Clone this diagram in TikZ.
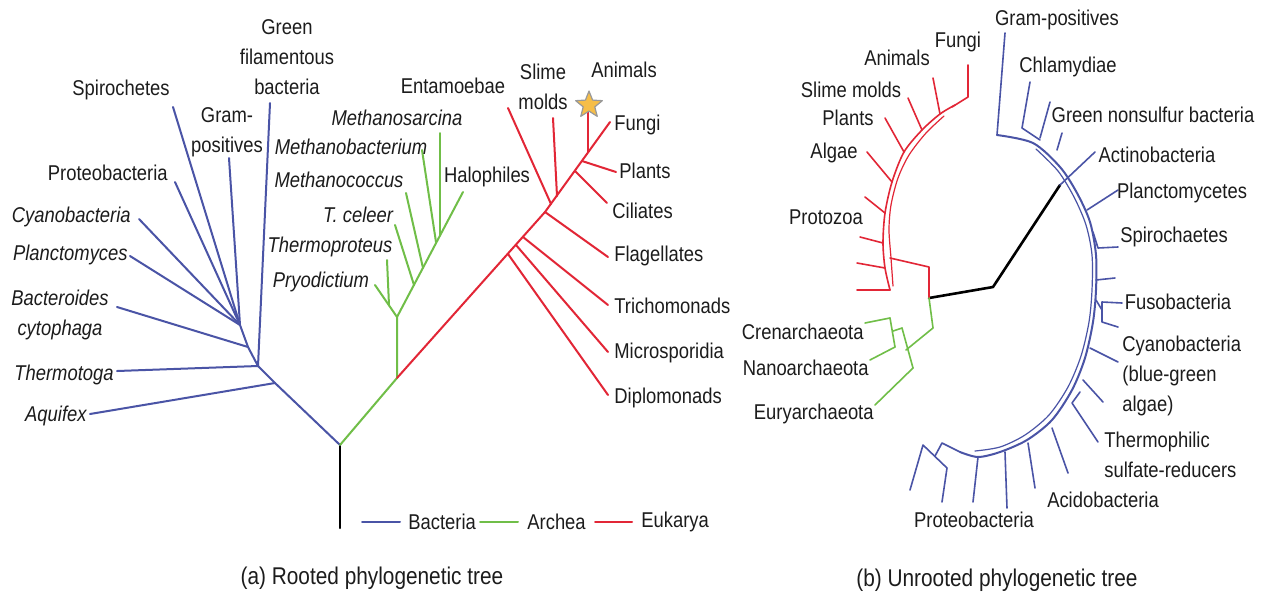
\documentclass[tikz,border=0pt]{standalone}
\usepackage{fontspec}
\setmainfont{Liberation Sans}[FakeStretch=0.86]
\usetikzlibrary{shapes.geometric}

\definecolor{bact}{RGB}{74,84,166}
\definecolor{arch}{RGB}{112,190,72}
\definecolor{euk}{RGB}{226,38,54}
\definecolor{txt}{RGB}{28,28,28}
\definecolor{etoile}{RGB}{246,190,72}

\begin{document}
\begin{tikzpicture}[x=0.5pt, y=-0.5pt, line cap=round, line join=round,
  bleu/.style={draw=bact, line width=1pt},
  vert/.style={draw=arch, line width=1pt},
  rouge/.style={draw=euk, line width=1pt},
  fin/.style={line width=0.8pt},
  etiq/.style={text=txt, font=\fontsize{10.7}{15}\selectfont, inner sep=0pt},
  etiqit/.style={etiq, font=\fontsize{10.7}{15}\selectfont\itshape},
  titre/.style={text=txt, font=\fontsize{12.1}{14}\selectfont, inner sep=0pt}]

\useasboundingbox[fill=white] (0,0) rectangle (1269,601);

% ===== (a) Arbre enraciné =====

% Racine
\coordinate (racine) at (340,528);
\coordinate (r0) at (340,445);
\draw[line width=1pt] (racine) -- (r0);

% Bactéries
\coordinate (b1) at (275,383);
\coordinate (b2) at (258,366);
\coordinate (b3) at (248,347);
\coordinate (b4) at (240,325);
\coordinate (t-aqu) at (90,414);
\coordinate (t-the) at (117,371);
\coordinate (t-gfb) at (270,103);
\coordinate (t-bac) at (117,307);
\coordinate (t-pla) at (130,256);
\coordinate (t-cya) at (139,219);
\coordinate (t-pro) at (175,182);
\coordinate (t-spi) at (173,107);
\coordinate (t-gra) at (229,158);

\draw[bleu] (r0) -- (b1) -- (b2) -- (b3) -- (b4);
\draw[bleu] (b1) -- (t-aqu);
\draw[bleu] (b2) -- (t-the);
\draw[bleu] (b2) -- (t-gfb);
\draw[bleu] (b3) -- (t-bac);
\draw[bleu] (b4) -- (t-pla);
\draw[bleu] (b4) -- (t-cya);
\draw[bleu] (b4) -- (t-pro);
\draw[bleu] (b4) -- (t-spi);
\draw[bleu] (b4) -- (t-gra);

\node[etiqit, anchor=east] (aquifex) at (87,416) {Aquifex};
\node[etiqit, anchor=east] (thermotoga) at (114,375) {Thermotoga};
\node[etiqit, align=center] (bacteroides) at (60,315) {Bacteroides\\cytophaga};
\node[etiqit, anchor=east] (planctomyces) at (128,255) {Planctomyces};
\node[etiqit, anchor=east] (cyanobacteria) at (131,217) {Cyanobacteria};
\node[etiq, anchor=east] (proteobacteria) at (168,173) {Proteobacteria};
\node[etiq] (spirochetes) at (121,90) {Spirochetes};
\node[etiq, align=center] (grampos) at (227,132) {Gram-\\positives};
\node[etiq, align=center] (greenfil) at (287,57) {Green\\filamentous\\bacteria};

% Archées
\coordinate (g0) at (397,378);
\coordinate (g1) at (397,317);
\coordinate (g2) at (389,305);
\coordinate (g3) at (414,285);
\coordinate (g4) at (423,268);
\coordinate (g5) at (436,242);
\coordinate (g6) at (440,235);
\coordinate (t-pry) at (375,285);
\coordinate (t-thp) at (387,260);
\coordinate (t-tce) at (395,225);
\coordinate (t-mco) at (406,193);
\coordinate (t-mba) at (422,150);
\coordinate (t-msa) at (440,133);
\coordinate (t-hal) at (463,192);

\draw[vert] (r0) -- (g0) -- (g1) -- (t-hal);
\draw[vert] (g1) -- (t-pry);
\draw[vert] (g2) -- (t-thp);
\draw[vert] (g3) -- (t-tce);
\draw[vert] (g4) -- (t-mco);
\draw[vert] (g5) -- (t-mba);
\draw[vert] (g6) -- (t-msa);

\node[etiqit] (msarcina) at (397,118) {Methanosarcina};
\node[etiqit] (mbacterium) at (351,147) {Methanobacterium};
\node[etiqit] (mcoccus) at (339,180) {Methanococcus};
\node[etiqit] (tceleer) at (358,215) {T. celeer};
\node[etiqit] (thermoproteus) at (330,247) {Thermoproteus};
\node[etiqit] (pryodictium) at (321,282) {Pryodictium};
\node[etiq] (halophiles) at (487,177) {Halophiles};

% Eucaryotes
\coordinate (e1) at (508,254);
\coordinate (e2) at (516,245);
\coordinate (e3) at (523,237);
\coordinate (e4) at (545,212);
\coordinate (e5) at (551,204);
\coordinate (e6) at (557,196);
\coordinate (e7) at (575,171);
\coordinate (e8) at (582,161);
\coordinate (e9) at (588,152);
\coordinate (t-fun) at (610,122);
\coordinate (t-dip) at (608,395);
\coordinate (t-mic) at (608,352);
\coordinate (t-tri) at (608,305);
\coordinate (t-fla) at (608,257);
\coordinate (t-cil) at (607,203);
\coordinate (t-pln) at (616,172);
\coordinate (t-ani) at (588,112);
\coordinate (t-sli) at (553,118);
\coordinate (t-ent) at (508,108);

\draw[rouge] (g0) -- (e4) -- (t-fun);
\draw[rouge] (e1) -- (t-dip);
\draw[rouge] (e2) -- (t-mic);
\draw[rouge] (e3) -- (t-tri);
\draw[rouge] (e4) -- (t-fla);
\draw[rouge] (e5) -- (t-ent);
\draw[rouge] (e6) -- (t-sli);
\draw[rouge] (e7) -- (t-cil);
\draw[rouge] (e8) -- (t-pln);
\draw[rouge] (e9) -- (t-ani);

\node[star, star points=5, star point ratio=2.3, fill=etoile, draw=gray!80,
  line width=0.6pt, minimum size=14pt, inner sep=0pt] (etoile) at (589,105) {};

\node[etiq] (entamoebae) at (453,86) {Entamoebae};
\node[etiq, align=center] (slime) at (543,87) {Slime\\molds};
\node[etiq] (animals) at (624,70) {Animals};
\node[etiq, anchor=west] (fungi) at (614,125) {Fungi};
\node[etiq, anchor=west] (plants) at (619,171) {Plants};
\node[etiq, anchor=west] (ciliates) at (612,211) {Ciliates};
\node[etiq, anchor=west] (flagellates) at (614,256) {Flagellates};
\node[etiq, anchor=west] (trichomonads) at (614,306) {Trichomonads};
\node[etiq, anchor=west] (microsporidia) at (614,353) {Microsporidia};
\node[etiq, anchor=west] (diplomonads) at (614,398) {Diplomonads};

% Légende
\coordinate (lb1) at (362,522);
\coordinate (lb2) at (400,522);
\coordinate (lg1) at (480,522);
\coordinate (lg2) at (518,522);
\coordinate (lr1) at (595,522);
\coordinate (lr2) at (632,522);
\draw[bleu] (lb1) -- (lb2);
\draw[vert] (lg1) -- (lg2);
\draw[rouge] (lr1) -- (lr2);
\node[etiq, anchor=west] (lbact) at (408,522) {Bacteria};
\node[etiq, anchor=west] (larch) at (527,522) {Archea};
\node[etiq, anchor=west] (leuk) at (641,522) {Eukarya};

\node[titre] (titrea) at (372,578) {(a) Rooted phylogenetic tree};

% ===== (b) Arbre non enraciné =====

% Tronc central
\coordinate (j) at (929,298);
\coordinate (k) at (993,287);
\coordinate (act) at (1060,185);
\draw[line width=1.3pt] (j) -- (k) -- (act);

% Eucaryotes
\draw[rouge, fin] (j) -- (929,267) -- (890,258);
\draw[rouge, fin] plot[smooth] coordinates {(890,290) (885,268) (883,243) (885,213)
  (892,182) (904,152) (922,130) (940,114) (955,105)};
\draw[rouge, line width=0.6pt] plot[smooth] coordinates {(893,286) (891,258) (889,230)
  (891,205) (898,178) (909,155) (926,133) (944,116)};
\coordinate (t-fun2) at (968,65);
\coordinate (t-ani2) at (933,78);
\coordinate (t-sli2) at (908,98);
\coordinate (t-pln2) at (885,118);
\coordinate (t-alg) at (867,152);
\coordinate (t-pz1) at (865,197);
\coordinate (t-pz2) at (860,237);
\coordinate (t-pz3) at (857,263);
\coordinate (t-pz4) at (857,290);
\draw[rouge, fin] (t-fun2) -- (968,97) -- (952,107);
\draw[rouge, fin] (t-ani2) -- (940,114);
\draw[rouge, fin] (t-sli2) -- (922,130);
\draw[rouge, fin] (t-pln2) -- (904,152);
\draw[rouge, fin] (t-alg) -- (892,182);
\draw[rouge, fin] (t-pz1) -- (885,213);
\draw[rouge, fin] (t-pz2) -- (883,243);
\draw[rouge, fin] (t-pz3) -- (885,268);
\draw[rouge, fin] (t-pz4) -- (890,290);

\node[etiq] (fungi2) at (958,42) {Fungi};
\node[etiq] (animals2) at (897,58) {Animals};
\node[etiq] (slime2) at (851,90) {Slime molds};
\node[etiq] (plants2) at (848,118) {Plants};
\node[etiq] (algae) at (834,153) {Algae};
\node[etiq] (protozoa) at (826,217) {Protozoa};

% Archées
\coordinate (t-cre) at (865,323);
\coordinate (t-nan) at (870,360);
\coordinate (t-eur) at (875,405);
\draw[vert, fin] (j) -- (933,328) -- (906,350);
\draw[vert, fin] (902,328) -- (913,368);
\draw[vert, fin] (893,331) -- (902,328);
\draw[vert, fin] (890,318) -- (895,347);
\draw[vert, fin] (t-cre) -- (890,318);
\draw[vert, fin] (t-nan) -- (895,347);
\draw[vert, fin] (t-eur) -- (913,368);

\node[etiq, anchor=east] (crenarch) at (864,332) {Crenarchaeota};
\node[etiq, anchor=east] (nanoarch) at (869,368) {Nanoarchaeota};
\node[etiq, anchor=east] (euryarch) at (874,414) {Euryarchaeota};

% Bactéries
\draw[bleu, line width=1pt] plot[smooth] coordinates {(997,135) (1033,143) (1060,167) (1077,193)
  (1090,222) (1096,255) (1096,290) (1093,322) (1085,358) (1072,390) (1052,420)
  (1027,440) (1000,452) (978,457) (960,452)};
\draw[bleu, line width=0.6pt] plot[smooth] coordinates {(1036,149) (1058,171) (1074,197)
  (1086,225) (1092,255) (1092,290) (1089,322) (1081,356) (1068,387) (1049,415)
  (1025,435) (1000,447) (975,451)};
\coordinate (t-grp) at (1005,33);
\coordinate (t-chl) at (1030,82);
\coordinate (t-gns) at (1050,102);
\coordinate (t-acb) at (1095,152);
\coordinate (t-plc) at (1118,190);
\coordinate (t-spc) at (1118,247);
\coordinate (t-fus) at (1122,303);
\coordinate (t-cyb) at (1118,362);
\coordinate (t-ths) at (1098,442);
\coordinate (t-acd) at (1068,473);
\coordinate (t-prb) at (1007,508);
\draw[bleu, fin] (t-grp) -- (997,135);
\draw[bleu, fin] (t-chl) -- (1022,128) -- (1040,140);
\draw[bleu, fin] (t-gns) -- (1040,138);
\draw[bleu, fin] (1062,133) -- (1057,150);
\draw[bleu, fin] (t-acb) -- (act);
\draw[bleu, fin] (t-plc) -- (1087,210);
\draw[bleu, fin] (t-spc) -- (1098,248) -- (1093,232);
\draw[bleu, fin] (1115,278) -- (1096,280);
\draw[bleu, fin] (t-fus) -- (1102,302) -- (1102,322) -- (1118,327);
\draw[bleu, fin] (1096,300) -- (1102,310);
\draw[bleu, fin] (t-cyb) -- (1090,348);
\draw[bleu, fin] (1103,402) -- (1083,380);
\draw[bleu, fin] (t-ths) -- (1072,403) -- (1080,392);
\draw[bleu, fin] (t-acd) -- (1052,428);
\draw[bleu, fin] (1035,488) -- (1028,443);
\draw[bleu, fin] (t-prb) -- (1005,452);
\draw[bleu, fin] (973,502) -- (978,457);
\draw[bleu, fin] (910,490) -- (923,445) -- (947,468) -- (942,502);
\draw[bleu, fin] (935,456) -- (942,443) -- (960,452);

\node[etiq] (grampos2) at (1057,20) {Gram-positives};
\node[etiq] (chlamydiae) at (1068,67) {Chlamydiae};
\node[etiq] (greennon) at (1153,115) {Green nonsulfur bacteria};
\node[etiq] (actino) at (1157,155) {Actinobacteria};
\node[etiq] (plancto) at (1182,193) {Planctomycetes};
\node[etiq] (spirochaetes) at (1174,237) {Spirochaetes};
\node[etiq] (fuso) at (1178,302) {Fusobacteria};
\node[etiq, align=left, anchor=west] (cyano2) at (1122,376) {Cyanobacteria\\(blue-green\\algae)};
\node[etiq, align=left, anchor=west] (thermophilic) at (1104,455) {Thermophilic\\sulfate-reducers};
\node[etiq] (acido) at (1103,500) {Acidobacteria};
\node[etiq] (proteo2) at (974,520) {Proteobacteria};

\node[titre] (titreb) at (997,580) {(b) Unrooted phylogenetic tree};

\end{tikzpicture}
\end{document}
